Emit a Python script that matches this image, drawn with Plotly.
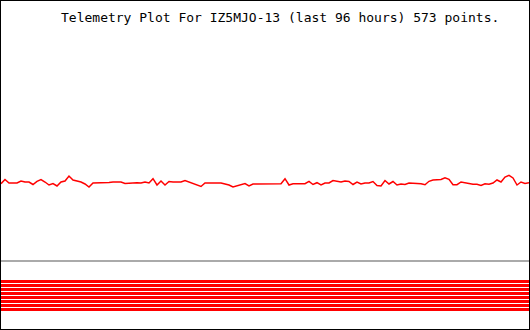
import numpy as np
import plotly.graph_objects as go

TITLE = "Telemetry Plot For IZ5MJO-13 (last 96 hours) 573 points."

# Analog channel readings (arbitrary units)
analog_values = [
    146.3, 150.5, 147.0, 147.0, 147.0, 149.0, 148.0, 148.0, 145.5, 148.7,
    150.5, 148.0, 145.0, 146.5, 144.0, 148.0, 149.0, 154.0, 150.0, 149.0,
    148.0, 146.0, 143.0, 147.0, 147.0, 147.0, 147.5, 147.5, 148.0, 148.0,
    148.0, 146.5, 147.0, 147.0, 147.3, 147.0, 148.0, 147.0, 151.3, 145.0,
    149.0, 145.0, 148.5, 148.0, 148.0, 148.0, 149.5, 148.0, 146.0, 145.0,
    143.5, 147.0, 147.0, 147.0, 147.0, 147.0, 146.0, 145.0, 143.0, 144.0,
    145.0, 146.5, 144.0, 146.0, 146.0, 146.0, 146.0, 146.0, 146.3, 146.3,
    146.3, 151.3, 145.0, 146.3, 146.3, 146.3, 146.3, 148.7, 145.5, 147.3,
    145.0, 147.0, 147.0, 149.5, 148.5, 148.0, 149.0, 148.5, 145.5, 148.0,
    146.0, 147.0, 147.0, 148.5, 144.5, 144.0, 149.5, 146.0, 148.5, 145.0,
    146.0, 145.5, 147.0, 147.0, 146.3, 146.3, 145.3, 148.7, 150.0, 150.3,
    150.5, 152.3, 150.7, 145.3, 145.3, 148.0, 147.0, 146.5, 145.7, 145.7,
    144.5, 146.3, 145.7, 147.0, 150.0, 148.0, 153.0, 154.7, 152.0, 145.0,
    148.0, 146.5, 147.3,
]
sample_hours = np.linspace(-96, 0, len(analog_values))

# Digital channel levels (8 bits) and the separator level
bit_levels = [48.5, 44.5, 40.5, 36.5, 32.5, 28.5, 24.5, 20.5]
separator_level = 69.0

fig = go.Figure()

fig.add_trace(go.Scatter(
    x=[-96, 0], y=[separator_level, separator_level], mode="lines",
    line=dict(color="#aaaaaa", width=2), hoverinfo="skip", showlegend=False))

for lvl in bit_levels:
    fig.add_trace(go.Scatter(
        x=[-96, 0], y=[lvl, lvl], mode="lines",
        line=dict(color="#ff0000", width=3), hoverinfo="skip", showlegend=False))

fig.add_trace(go.Scatter(
    x=sample_hours, y=analog_values, mode="lines",
    line=dict(color="#ff0000", width=1.5), showlegend=False))

fig.add_annotation(
    text=TITLE, xref="paper", yref="paper", x=58 / 528, y=1 - 16 / 328,
    xanchor="left", yanchor="middle", showarrow=False,
    font=dict(family="DejaVu Sans Mono", size=13, color="black"))

fig.update_layout(
    width=530, height=330,
    margin=dict(l=1, r=1, t=1, b=1),
    paper_bgcolor="black", plot_bgcolor="white",
    xaxis=dict(range=[-96, 0], visible=False, fixedrange=True),
    yaxis=dict(range=[1, 329], visible=False, fixedrange=True),
)

fig.write_html("out.html", config={"displayModeBar": False})
